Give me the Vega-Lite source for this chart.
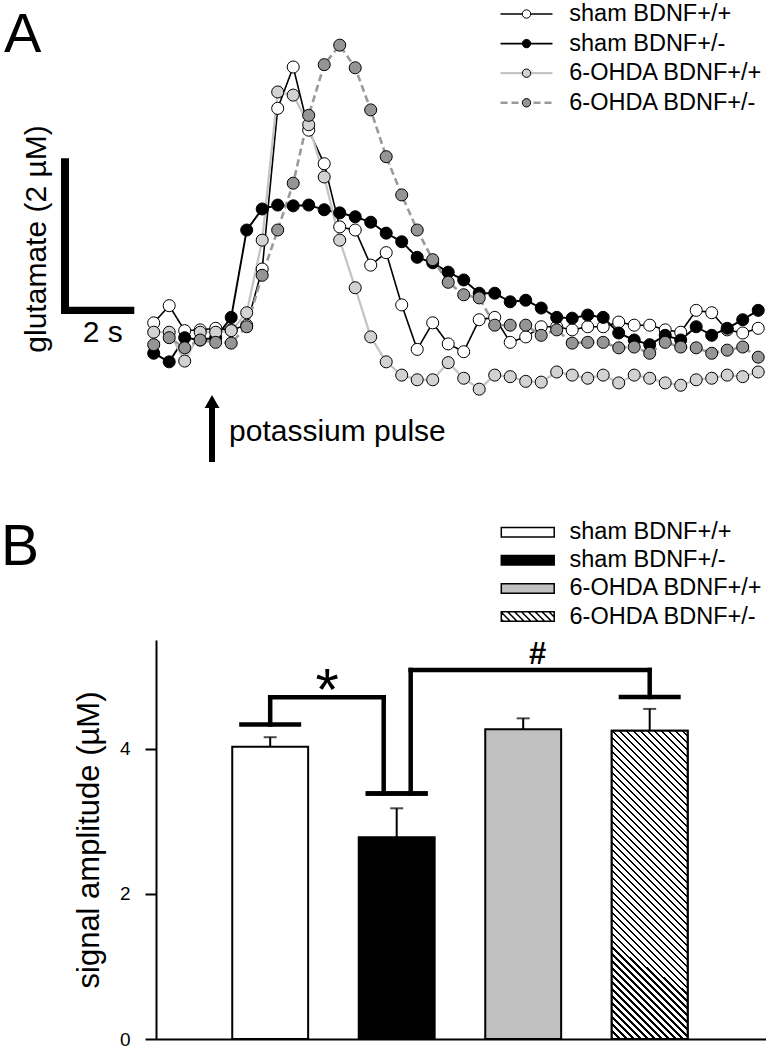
{
  "$schema": "https://vega.github.io/schema/vega-lite/v6.json",
  "padding": 0,
  "background": "white",
  "spacing": 0,
  "bounds": "flush",
  "config": {
    "view": {"stroke": null},
    "font": "Liberation Sans",
    "text": {"font": "Liberation Sans", "color": "#000"}
  },
  "resolve": {
    "scale": {"x": "independent", "y": "independent", "fill": "independent", "stroke": "independent", "strokeDash": "independent", "strokeWidth": "independent", "shape": "independent"},
    "legend": {"fill": "independent", "stroke": "independent", "strokeDash": "independent", "strokeWidth": "independent", "shape": "independent"}
  },
  "datasets": {
    "traces": [
      {"series":"sham BDNF+/+","t":0,"glutamate":0.22},{"series":"sham BDNF+/+","t":0.425,"glutamate":0.44},{"series":"sham BDNF+/+","t":0.85,"glutamate":0.12},{"series":"sham BDNF+/+","t":1.275,"glutamate":0.13},{"series":"sham BDNF+/+","t":1.7,"glutamate":0.15},{"series":"sham BDNF+/+","t":2.125,"glutamate":0.13},{"series":"sham BDNF+/+","t":2.55,"glutamate":0.19},{"series":"sham BDNF+/+","t":2.975,"glutamate":0.91},{"series":"sham BDNF+/+","t":3.4,"glutamate":2.97},{"series":"sham BDNF+/+","t":3.825,"glutamate":3.5},{"series":"sham BDNF+/+","t":4.25,"glutamate":2.69},{"series":"sham BDNF+/+","t":4.675,"glutamate":2.26},{"series":"sham BDNF+/+","t":5.1,"glutamate":1.45},{"series":"sham BDNF+/+","t":5.525,"glutamate":1.41},{"series":"sham BDNF+/+","t":5.95,"glutamate":0.96},{"series":"sham BDNF+/+","t":6.375,"glutamate":1.12},{"series":"sham BDNF+/+","t":6.8,"glutamate":0.45},{"series":"sham BDNF+/+","t":7.225,"glutamate":-0.12},{"series":"sham BDNF+/+","t":7.65,"glutamate":0.22},{"series":"sham BDNF+/+","t":8.075,"glutamate":-0.05},{"series":"sham BDNF+/+","t":8.5,"glutamate":-0.15},{"series":"sham BDNF+/+","t":8.925,"glutamate":0.26},{"series":"sham BDNF+/+","t":9.35,"glutamate":0.29},{"series":"sham BDNF+/+","t":9.775,"glutamate":-0.03},{"series":"sham BDNF+/+","t":10.2,"glutamate":0.04},{"series":"sham BDNF+/+","t":10.625,"glutamate":0.17},{"series":"sham BDNF+/+","t":11.05,"glutamate":0.17},{"series":"sham BDNF+/+","t":11.475,"glutamate":0.13},{"series":"sham BDNF+/+","t":11.9,"glutamate":0.17},{"series":"sham BDNF+/+","t":12.325,"glutamate":0.17},{"series":"sham BDNF+/+","t":12.75,"glutamate":0.23},{"series":"sham BDNF+/+","t":13.175,"glutamate":0.19},{"series":"sham BDNF+/+","t":13.6,"glutamate":0.19},{"series":"sham BDNF+/+","t":14.025,"glutamate":0.13},{"series":"sham BDNF+/+","t":14.45,"glutamate":0.1},{"series":"sham BDNF+/+","t":14.875,"glutamate":0.38},{"series":"sham BDNF+/+","t":15.3,"glutamate":0.35},{"series":"sham BDNF+/+","t":15.725,"glutamate":0.13},{"series":"sham BDNF+/+","t":16.15,"glutamate":0.09},{"series":"sham BDNF+/+","t":16.575,"glutamate":0.15},
      {"series":"sham BDNF+/-","t":0,"glutamate":-0.17},{"series":"sham BDNF+/-","t":0.425,"glutamate":-0.28},{"series":"sham BDNF+/-","t":0.85,"glutamate":0.03},{"series":"sham BDNF+/-","t":1.275,"glutamate":0},{"series":"sham BDNF+/-","t":1.7,"glutamate":0.03},{"series":"sham BDNF+/-","t":2.125,"glutamate":0.29},{"series":"sham BDNF+/-","t":2.55,"glutamate":1.41},{"series":"sham BDNF+/-","t":2.975,"glutamate":1.68},{"series":"sham BDNF+/-","t":3.4,"glutamate":1.73},{"series":"sham BDNF+/-","t":3.825,"glutamate":1.72},{"series":"sham BDNF+/-","t":4.25,"glutamate":1.73},{"series":"sham BDNF+/-","t":4.675,"glutamate":1.67},{"series":"sham BDNF+/-","t":5.1,"glutamate":1.63},{"series":"sham BDNF+/-","t":5.525,"glutamate":1.58},{"series":"sham BDNF+/-","t":5.95,"glutamate":1.51},{"series":"sham BDNF+/-","t":6.375,"glutamate":1.37},{"series":"sham BDNF+/-","t":6.8,"glutamate":1.26},{"series":"sham BDNF+/-","t":7.225,"glutamate":1.06},{"series":"sham BDNF+/-","t":7.65,"glutamate":0.99},{"series":"sham BDNF+/-","t":8.075,"glutamate":0.87},{"series":"sham BDNF+/-","t":8.5,"glutamate":0.77},{"series":"sham BDNF+/-","t":8.925,"glutamate":0.6},{"series":"sham BDNF+/-","t":9.35,"glutamate":0.6},{"series":"sham BDNF+/-","t":9.775,"glutamate":0.49},{"series":"sham BDNF+/-","t":10.2,"glutamate":0.51},{"series":"sham BDNF+/-","t":10.625,"glutamate":0.41},{"series":"sham BDNF+/-","t":11.05,"glutamate":0.29},{"series":"sham BDNF+/-","t":11.475,"glutamate":0.28},{"series":"sham BDNF+/-","t":11.9,"glutamate":0.32},{"series":"sham BDNF+/-","t":12.325,"glutamate":0.29},{"series":"sham BDNF+/-","t":12.75,"glutamate":0.09},{"series":"sham BDNF+/-","t":13.175,"glutamate":0},{"series":"sham BDNF+/-","t":13.6,"glutamate":-0.06},{"series":"sham BDNF+/-","t":14.025,"glutamate":0.06},{"series":"sham BDNF+/-","t":14.45,"glutamate":0},{"series":"sham BDNF+/-","t":14.875,"glutamate":0.17},{"series":"sham BDNF+/-","t":15.3,"glutamate":0.06},{"series":"sham BDNF+/-","t":15.725,"glutamate":0.15},{"series":"sham BDNF+/-","t":16.15,"glutamate":0.26},{"series":"sham BDNF+/-","t":16.575,"glutamate":0.38},
      {"series":"6-OHDA BDNF+/+","t":0,"glutamate":0.1},{"series":"6-OHDA BDNF+/+","t":0.425,"glutamate":0.1},{"series":"6-OHDA BDNF+/+","t":0.85,"glutamate":-0.27},{"series":"6-OHDA BDNF+/+","t":1.275,"glutamate":0.1},{"series":"6-OHDA BDNF+/+","t":1.7,"glutamate":0.1},{"series":"6-OHDA BDNF+/+","t":2.125,"glutamate":0.12},{"series":"6-OHDA BDNF+/+","t":2.55,"glutamate":0.35},{"series":"6-OHDA BDNF+/+","t":2.975,"glutamate":1.28},{"series":"6-OHDA BDNF+/+","t":3.4,"glutamate":3.18},{"series":"6-OHDA BDNF+/+","t":3.825,"glutamate":3.14},{"series":"6-OHDA BDNF+/+","t":4.25,"glutamate":2.76},{"series":"6-OHDA BDNF+/+","t":4.675,"glutamate":2.09},{"series":"6-OHDA BDNF+/+","t":5.1,"glutamate":1.28},{"series":"6-OHDA BDNF+/+","t":5.525,"glutamate":0.67},{"series":"6-OHDA BDNF+/+","t":5.95,"glutamate":0.04},{"series":"6-OHDA BDNF+/+","t":6.375,"glutamate":-0.28},{"series":"6-OHDA BDNF+/+","t":6.8,"glutamate":-0.45},{"series":"6-OHDA BDNF+/+","t":7.225,"glutamate":-0.51},{"series":"6-OHDA BDNF+/+","t":7.65,"glutamate":-0.51},{"series":"6-OHDA BDNF+/+","t":8.075,"glutamate":-0.29},{"series":"6-OHDA BDNF+/+","t":8.5,"glutamate":-0.49},{"series":"6-OHDA BDNF+/+","t":8.925,"glutamate":-0.63},{"series":"6-OHDA BDNF+/+","t":9.35,"glutamate":-0.45},{"series":"6-OHDA BDNF+/+","t":9.775,"glutamate":-0.47},{"series":"6-OHDA BDNF+/+","t":10.2,"glutamate":-0.53},{"series":"6-OHDA BDNF+/+","t":10.625,"glutamate":-0.54},{"series":"6-OHDA BDNF+/+","t":11.05,"glutamate":-0.41},{"series":"6-OHDA BDNF+/+","t":11.475,"glutamate":-0.45},{"series":"6-OHDA BDNF+/+","t":11.9,"glutamate":-0.49},{"series":"6-OHDA BDNF+/+","t":12.325,"glutamate":-0.45},{"series":"6-OHDA BDNF+/+","t":12.75,"glutamate":-0.55},{"series":"6-OHDA BDNF+/+","t":13.175,"glutamate":-0.45},{"series":"6-OHDA BDNF+/+","t":13.6,"glutamate":-0.49},{"series":"6-OHDA BDNF+/+","t":14.025,"glutamate":-0.55},{"series":"6-OHDA BDNF+/+","t":14.45,"glutamate":-0.58},{"series":"6-OHDA BDNF+/+","t":14.875,"glutamate":-0.51},{"series":"6-OHDA BDNF+/+","t":15.3,"glutamate":-0.49},{"series":"6-OHDA BDNF+/+","t":15.725,"glutamate":-0.45},{"series":"6-OHDA BDNF+/+","t":16.15,"glutamate":-0.47},{"series":"6-OHDA BDNF+/+","t":16.575,"glutamate":-0.41},
      {"series":"6-OHDA BDNF+/-","t":0,"glutamate":-0.06},{"series":"6-OHDA BDNF+/-","t":0.425,"glutamate":0.03},{"series":"6-OHDA BDNF+/-","t":0.85,"glutamate":-0.1},{"series":"6-OHDA BDNF+/-","t":1.275,"glutamate":0},{"series":"6-OHDA BDNF+/-","t":1.7,"glutamate":-0.03},{"series":"6-OHDA BDNF+/-","t":2.125,"glutamate":-0.04},{"series":"6-OHDA BDNF+/-","t":2.55,"glutamate":0.17},{"series":"6-OHDA BDNF+/-","t":2.975,"glutamate":0.83},{"series":"6-OHDA BDNF+/-","t":3.4,"glutamate":1.41},{"series":"6-OHDA BDNF+/-","t":3.825,"glutamate":2.01},{"series":"6-OHDA BDNF+/-","t":4.25,"glutamate":2.88},{"series":"6-OHDA BDNF+/-","t":4.675,"glutamate":3.53},{"series":"6-OHDA BDNF+/-","t":5.1,"glutamate":3.78},{"series":"6-OHDA BDNF+/-","t":5.525,"glutamate":3.49},{"series":"6-OHDA BDNF+/-","t":5.95,"glutamate":2.95},{"series":"6-OHDA BDNF+/-","t":6.375,"glutamate":2.35},{"series":"6-OHDA BDNF+/-","t":6.8,"glutamate":1.86},{"series":"6-OHDA BDNF+/-","t":7.225,"glutamate":1.41},{"series":"6-OHDA BDNF+/-","t":7.65,"glutamate":1.03},{"series":"6-OHDA BDNF+/-","t":8.075,"glutamate":0.74},{"series":"6-OHDA BDNF+/-","t":8.5,"glutamate":0.58},{"series":"6-OHDA BDNF+/-","t":8.925,"glutamate":0.54},{"series":"6-OHDA BDNF+/-","t":9.35,"glutamate":0.19},{"series":"6-OHDA BDNF+/-","t":9.775,"glutamate":0.19},{"series":"6-OHDA BDNF+/-","t":10.2,"glutamate":0.19},{"series":"6-OHDA BDNF+/-","t":10.625,"glutamate":0.06},{"series":"6-OHDA BDNF+/-","t":11.05,"glutamate":0.13},{"series":"6-OHDA BDNF+/-","t":11.475,"glutamate":-0.04},{"series":"6-OHDA BDNF+/-","t":11.9,"glutamate":-0.03},{"series":"6-OHDA BDNF+/-","t":12.325,"glutamate":-0.03},{"series":"6-OHDA BDNF+/-","t":12.75,"glutamate":-0.1},{"series":"6-OHDA BDNF+/-","t":13.175,"glutamate":-0.09},{"series":"6-OHDA BDNF+/-","t":13.6,"glutamate":-0.17},{"series":"6-OHDA BDNF+/-","t":14.025,"glutamate":-0.03},{"series":"6-OHDA BDNF+/-","t":14.45,"glutamate":-0.09},{"series":"6-OHDA BDNF+/-","t":14.875,"glutamate":-0.1},{"series":"6-OHDA BDNF+/-","t":15.3,"glutamate":-0.17},{"series":"6-OHDA BDNF+/-","t":15.725,"glutamate":-0.13},{"series":"6-OHDA BDNF+/-","t":16.15,"glutamate":-0.09},{"series":"6-OHDA BDNF+/-","t":16.575,"glutamate":-0.22}
    ],
    "bars": [
      {"group": "sham BDNF+/+", "mean": 4.03, "sem": 0.13},
      {"group": "sham BDNF+/-", "mean": 2.78, "sem": 0.4},
      {"group": "6-OHDA BDNF+/+", "mean": 4.27, "sem": 0.15},
      {"group": "6-OHDA BDNF+/-", "mean": 4.25, "sem": 0.3}
    ],
    "brackets": [
      {"comparison": "*", "a": "sham BDNF+/+", "b": "sham BDNF+/-", "ya": 4.335, "yb": 3.385, "top": 4.71},
      {"comparison": "#", "a": "sham BDNF+/-", "b": "6-OHDA BDNF+/-", "ya": 3.385, "yb": 4.715, "top": 5.087}
    ]
  },
  "vconcat": [
    {
      "width": 611,
      "height": 640,
      "data": {"values": [{}]},
      "resolve": {"legend": {"stroke": "independent", "strokeDash": "independent", "strokeWidth": "independent", "fill": "independent"}},
      "layer": [
        {
          "data": {"name": "traces"},
          "mark": {"type": "line", "strokeCap": "butt"},
          "encoding": {
            "x": {"field": "t", "type": "quantitative", "scale": {"domain": [0.063, 16.816], "nice": false, "zero": false}, "axis": null},
            "y": {"field": "glutamate", "type": "quantitative", "scale": {"domain": [-3.846, 4.359], "nice": false, "zero": false}, "axis": null},
            "stroke": {"field": "series", "type": "nominal",
              "scale": {"domain": ["sham BDNF+/+", "sham BDNF+/-", "6-OHDA BDNF+/+", "6-OHDA BDNF+/-"], "range": ["#000000", "#000000", "#c4c4c4", "#9a9a9a"]},
              "legend": {"title": null, "orient": "none", "legendX": 358.75, "legendY": 2.25, "padding": 0, "symbolType": "M-5,0H5", "symbolSize": 108, "labelOffset": 31, "labelFontSize": 23.5, "labelFont": "Liberation Sans", "labelColor": "#000", "labelLimit": 400, "rowPadding": 4.6}},
            "strokeDash": {"field": "series", "type": "nominal",
              "scale": {"domain": ["sham BDNF+/+", "sham BDNF+/-", "6-OHDA BDNF+/+", "6-OHDA BDNF+/-"], "range": [[1, 0], [1, 0], [1, 0], [7, 4]]},
              "legend": {"title": null, "orient": "none", "legendX": 358.75, "legendY": 2.25, "padding": 0, "symbolType": "M-5,0H5", "symbolSize": 108, "labelOffset": 31, "labelFontSize": 23.5, "labelFont": "Liberation Sans", "labelColor": "#000", "labelLimit": 400, "rowPadding": 4.6}},
            "strokeWidth": {"field": "series", "type": "nominal",
              "scale": {"domain": ["sham BDNF+/+", "sham BDNF+/-", "6-OHDA BDNF+/+", "6-OHDA BDNF+/-"], "range": [1.6, 2.6, 2, 2]},
              "legend": {"title": null, "orient": "none", "legendX": 358.75, "legendY": 2.25, "padding": 0, "symbolType": "M-5,0H5", "symbolSize": 108, "labelOffset": 31, "labelFontSize": 23.5, "labelFont": "Liberation Sans", "labelColor": "#000", "labelLimit": 400, "rowPadding": 4.6}}
          }
        },
        {
          "data": {"name": "traces"},
          "mark": {"type": "point", "shape": "circle", "filled": true, "size": 145, "stroke": "#000", "strokeWidth": 1, "opacity": 1},
          "encoding": {
            "x": {"field": "t", "type": "quantitative"},
            "y": {"field": "glutamate", "type": "quantitative"},
            "fill": {"field": "series", "type": "nominal",
              "scale": {"domain": ["sham BDNF+/+", "sham BDNF+/-", "6-OHDA BDNF+/+", "6-OHDA BDNF+/-"], "range": ["#ffffff", "#000000", "#d2d2d2", "#959595"]},
              "legend": {"title": null, "orient": "none", "legendX": 358.75, "legendY": 2.25, "padding": 0, "symbolType": "circle", "symbolSize": 70, "symbolStrokeColor": "#000", "symbolStrokeWidth": 1, "symbolOpacity": 1, "labelOffset": 31, "labelFontSize": 23.5, "labelFont": "Liberation Sans", "labelOpacity": 0, "labelLimit": 400, "rowPadding": 4.6}}
          }
        },
        {
          "mark": {"type": "rule", "strokeWidth": 8, "strokeCap": "butt", "color": "#000"},
          "encoding": {"x": {"datum": -2.432}, "y": {"datum": 0.333}, "y2": {"datum": 2.329}}
        },
        {
          "mark": {"type": "rule", "strokeWidth": 7.4, "strokeCap": "butt", "color": "#000"},
          "encoding": {"x": {"datum": -2.542}, "x2": {"datum": -0.532}, "y": {"datum": 0.38}}
        },
        {
          "mark": {"type": "text", "text": "2 s", "fontSize": 30, "align": "center", "baseline": "alphabetic"},
          "encoding": {"x": {"datum": -1.4}, "y": {"datum": -0.022}}
        },
        {
          "mark": {"type": "text", "text": "glutamate (2 µM)", "fontSize": 30, "align": "center", "baseline": "alphabetic", "angle": 270},
          "encoding": {"x": {"datum": -2.953}, "y": {"datum": 1.295}}
        },
        {
          "mark": {"type": "text", "text": "potassium pulse", "fontSize": 30, "align": "left", "baseline": "alphabetic"},
          "encoding": {"x": {"datum": 2.065}, "y": {"datum": -1.295}}
        },
        {
          "mark": {"type": "rule", "strokeWidth": 6, "strokeCap": "butt", "color": "#000"},
          "encoding": {"x": {"datum": 1.599}, "y": {"datum": -1.564}, "y2": {"datum": -0.833}}
        },
        {
          "mark": {"type": "point", "shape": "triangle-up", "filled": true, "size": 220, "color": "#000", "opacity": 1},
          "encoding": {"x": {"datum": 1.599}, "y": {"datum": -0.788}}
        },
        {
          "mark": {"type": "text", "text": "A", "fontSize": 56, "align": "left", "baseline": "alphabetic"},
          "encoding": {"x": {"datum": -4.105}, "y": {"datum": 3.692}}
        },
        {
          "mark": {"type": "text", "text": "B", "fontSize": 57, "align": "left", "baseline": "alphabetic"},
          "encoding": {"x": {"datum": -4.187}, "y": {"datum": -2.885}}
        }
      ]
    },
    {
      "width": 611,
      "height": 399,
      "data": {"name": "bars"},
      "encoding": {
        "x": {"field": "group", "type": "nominal", "sort": null,
          "scale": {"domain": ["sham BDNF+/+", "sham BDNF+/-", "6-OHDA BDNF+/+", "6-OHDA BDNF+/-"], "paddingInner": 0.4, "paddingOuter": 0.615, "align": 0.49},
          "axis": {"title": null, "labels": false, "ticks": false, "grid": false, "domainWidth": 2, "domainColor": "#000"}}
      },
      "layer": [
        {
          "mark": {"type": "point", "filled": true, "size": 112, "stroke": "#000", "strokeWidth": 1.5, "opacity": 1},
          "encoding": {
            "y": {"datum": 1, "type": "quantitative", "scale": {"domain": [0, 5.5], "nice": false, "zero": true},
              "axis": {"values": [0, 2, 4], "format": "d", "title": "signal amplitude (µM)", "titleFontSize": 31, "titleFontWeight": "normal", "titleColor": "#000", "titleFont": "Liberation Sans", "titlePadding": 14, "labelFontSize": 19, "labelFont": "Liberation Sans", "labelColor": "#000", "labelPadding": 15, "tickSize": 11, "tickWidth": 2, "tickColor": "#000", "domainColor": "#000", "domainWidth": 2, "grid": false}},
            "shape": {"field": "group", "type": "nominal",
              "scale": {"domain": ["sham BDNF+/+", "sham BDNF+/-", "6-OHDA BDNF+/+", "6-OHDA BDNF+/-"],
                "range": ["M-5,-0.9H5V0.9H-5Z", "M-5,-0.9H5V0.9H-5Z", "M-5,-0.9H5V0.9H-5Z", "M-5,-0.9H5V0.9H-5Z M-5,0.5L-4.6,0.9 M-5,-0.8L-3.3,0.9 M-3.8,-0.9L-2,0.9 M-2.5,-0.9L-0.7,0.9 M-1.2,-0.9L0.6,0.9 M0.1,-0.9L1.9,0.9 M1.4,-0.9L3.2,0.9 M2.7,-0.9L4.5,0.9 M4,-0.9L5,0.1"]},
              "legend": {"title": null, "orient": "none", "legendX": 360, "legendY": -119.5, "padding": 0, "symbolSize": 112, "symbolStrokeWidth": 1.5, "symbolOpacity": 1, "labelOffset": 30, "labelFontSize": 23.5, "labelFont": "Liberation Sans", "labelColor": "#000", "labelLimit": 400, "rowPadding": 3.1}},
            "stroke": {"field": "group", "type": "nominal",
              "scale": {"domain": ["sham BDNF+/+", "sham BDNF+/-", "6-OHDA BDNF+/+", "6-OHDA BDNF+/-"], "range": ["#000000", "#000000", "#000000", "#000000"]},
              "legend": {"title": null, "orient": "none", "legendX": 360, "legendY": -119.5, "padding": 0, "symbolSize": 112, "symbolStrokeWidth": 1.5, "symbolOpacity": 1, "labelOffset": 30, "labelFontSize": 23.5, "labelFont": "Liberation Sans", "labelColor": "#000", "labelLimit": 400, "rowPadding": 3.1}},
            "fill": {"field": "group", "type": "nominal",
              "scale": {"domain": ["sham BDNF+/+", "sham BDNF+/-", "6-OHDA BDNF+/+", "6-OHDA BDNF+/-"], "range": ["#ffffff", "#000000", "#c0c0c0", "#ffffff"]},
              "legend": {"title": null, "orient": "none", "legendX": 360, "legendY": -119.5, "padding": 0, "symbolSize": 112, "symbolStrokeWidth": 1.5, "symbolOpacity": 1, "labelOffset": 30, "labelFontSize": 23.5, "labelFont": "Liberation Sans", "labelColor": "#000", "labelLimit": 400, "rowPadding": 3.1}}
          }
        },
        {
          "mark": {"type": "errorbar", "ticks": true, "color": "#000", "thickness": 2, "size": 13},
          "encoding": {
            "y": {"field": "mean", "type": "quantitative", "title": "signal amplitude (µM)"},
            "yError": {"field": "sem"}
          }
        },
        {
          "mark": {"type": "bar", "stroke": "#000", "strokeWidth": 2},
          "encoding": {
            "y": {"field": "mean", "type": "quantitative", "title": "signal amplitude (µM)"},
            "fill": {"field": "group", "type": "nominal",
              "scale": {"domain": ["sham BDNF+/+", "sham BDNF+/-", "6-OHDA BDNF+/+", "6-OHDA BDNF+/-"], "range": ["#ffffff", "#000000", "#c0c0c0", "#ffffff"]},
              "legend": null}
          }
        },
        {
          "transform": [{"filter": "datum.group === '6-OHDA BDNF+/-'"}],
          "mark": {"type": "bar", "stroke": "#000", "strokeWidth": 2,
            "fill": {"gradient": "linear", "x1": 0, "y1": 1, "x2": 0.289, "y2": -0.175, "stops": [
              {"offset":0,"color":"#000"},{"offset":0.00636,"color":"#000"},{"offset":0.00636,"color":"#fff"},{"offset":0.01818,"color":"#fff"},
              {"offset":0.01818,"color":"#000"},{"offset":0.02455,"color":"#000"},{"offset":0.02455,"color":"#fff"},{"offset":0.03636,"color":"#fff"},
              {"offset":0.03636,"color":"#000"},{"offset":0.04273,"color":"#000"},{"offset":0.04273,"color":"#fff"},{"offset":0.05455,"color":"#fff"},
              {"offset":0.05455,"color":"#000"},{"offset":0.06091,"color":"#000"},{"offset":0.06091,"color":"#fff"},{"offset":0.07273,"color":"#fff"},
              {"offset":0.07273,"color":"#000"},{"offset":0.07909,"color":"#000"},{"offset":0.07909,"color":"#fff"},{"offset":0.09091,"color":"#fff"},
              {"offset":0.09091,"color":"#000"},{"offset":0.09727,"color":"#000"},{"offset":0.09727,"color":"#fff"},{"offset":0.10909,"color":"#fff"},
              {"offset":0.10909,"color":"#000"},{"offset":0.11545,"color":"#000"},{"offset":0.11545,"color":"#fff"},{"offset":0.12727,"color":"#fff"},
              {"offset":0.12727,"color":"#000"},{"offset":0.13364,"color":"#000"},{"offset":0.13364,"color":"#fff"},{"offset":0.14545,"color":"#fff"},
              {"offset":0.14545,"color":"#000"},{"offset":0.15182,"color":"#000"},{"offset":0.15182,"color":"#fff"},{"offset":0.16364,"color":"#fff"},
              {"offset":0.16364,"color":"#000"},{"offset":0.17,"color":"#000"},{"offset":0.17,"color":"#fff"},{"offset":0.18182,"color":"#fff"},
              {"offset":0.18182,"color":"#000"},{"offset":0.18818,"color":"#000"},{"offset":0.18818,"color":"#fff"},{"offset":0.2,"color":"#fff"},
              {"offset":0.2,"color":"#000"},{"offset":0.20636,"color":"#000"},{"offset":0.20636,"color":"#fff"},{"offset":0.21818,"color":"#fff"},
              {"offset":0.21818,"color":"#000"},{"offset":0.22455,"color":"#000"},{"offset":0.22455,"color":"#fff"},{"offset":0.23636,"color":"#fff"},
              {"offset":0.23636,"color":"#000"},{"offset":0.24273,"color":"#000"},{"offset":0.24273,"color":"#fff"},{"offset":0.25455,"color":"#fff"},
              {"offset":0.25455,"color":"#000"},{"offset":0.26091,"color":"#000"},{"offset":0.26091,"color":"#fff"},{"offset":0.27273,"color":"#fff"},
              {"offset":0.27273,"color":"#000"},{"offset":0.27909,"color":"#000"},{"offset":0.27909,"color":"#fff"},{"offset":0.29091,"color":"#fff"},
              {"offset":0.29091,"color":"#000"},{"offset":0.29727,"color":"#000"},{"offset":0.29727,"color":"#fff"},{"offset":0.30909,"color":"#fff"},
              {"offset":0.30909,"color":"#000"},{"offset":0.31545,"color":"#000"},{"offset":0.31545,"color":"#fff"},{"offset":0.32727,"color":"#fff"},
              {"offset":0.32727,"color":"#000"},{"offset":0.33364,"color":"#000"},{"offset":0.33364,"color":"#fff"},{"offset":0.34545,"color":"#fff"},
              {"offset":0.34545,"color":"#000"},{"offset":0.35182,"color":"#000"},{"offset":0.35182,"color":"#fff"},{"offset":0.36364,"color":"#fff"},
              {"offset":0.36364,"color":"#000"},{"offset":0.37,"color":"#000"},{"offset":0.37,"color":"#fff"},{"offset":0.38182,"color":"#fff"},
              {"offset":0.38182,"color":"#000"},{"offset":0.38818,"color":"#000"},{"offset":0.38818,"color":"#fff"},{"offset":0.4,"color":"#fff"},
              {"offset":0.4,"color":"#000"},{"offset":0.40636,"color":"#000"},{"offset":0.40636,"color":"#fff"},{"offset":0.41818,"color":"#fff"},
              {"offset":0.41818,"color":"#000"},{"offset":0.42455,"color":"#000"},{"offset":0.42455,"color":"#fff"},{"offset":0.43636,"color":"#fff"},
              {"offset":0.43636,"color":"#000"},{"offset":0.44273,"color":"#000"},{"offset":0.44273,"color":"#fff"},{"offset":0.45455,"color":"#fff"},
              {"offset":0.45455,"color":"#000"},{"offset":0.46091,"color":"#000"},{"offset":0.46091,"color":"#fff"},{"offset":0.47273,"color":"#fff"},
              {"offset":0.47273,"color":"#000"},{"offset":0.47909,"color":"#000"},{"offset":0.47909,"color":"#fff"},{"offset":0.49091,"color":"#fff"},
              {"offset":0.49091,"color":"#000"},{"offset":0.49727,"color":"#000"},{"offset":0.49727,"color":"#fff"},{"offset":0.50909,"color":"#fff"},
              {"offset":0.50909,"color":"#000"},{"offset":0.51545,"color":"#000"},{"offset":0.51545,"color":"#fff"},{"offset":0.52727,"color":"#fff"},
              {"offset":0.52727,"color":"#000"},{"offset":0.53364,"color":"#000"},{"offset":0.53364,"color":"#fff"},{"offset":0.54545,"color":"#fff"},
              {"offset":0.54545,"color":"#000"},{"offset":0.55182,"color":"#000"},{"offset":0.55182,"color":"#fff"},{"offset":0.56364,"color":"#fff"},
              {"offset":0.56364,"color":"#000"},{"offset":0.57,"color":"#000"},{"offset":0.57,"color":"#fff"},{"offset":0.58182,"color":"#fff"},
              {"offset":0.58182,"color":"#000"},{"offset":0.58818,"color":"#000"},{"offset":0.58818,"color":"#fff"},{"offset":0.6,"color":"#fff"},
              {"offset":0.6,"color":"#000"},{"offset":0.60636,"color":"#000"},{"offset":0.60636,"color":"#fff"},{"offset":0.61818,"color":"#fff"},
              {"offset":0.61818,"color":"#000"},{"offset":0.62455,"color":"#000"},{"offset":0.62455,"color":"#fff"},{"offset":0.63636,"color":"#fff"},
              {"offset":0.63636,"color":"#000"},{"offset":0.64273,"color":"#000"},{"offset":0.64273,"color":"#fff"},{"offset":0.65455,"color":"#fff"},
              {"offset":0.65455,"color":"#000"},{"offset":0.66091,"color":"#000"},{"offset":0.66091,"color":"#fff"},{"offset":0.67273,"color":"#fff"},
              {"offset":0.67273,"color":"#000"},{"offset":0.67909,"color":"#000"},{"offset":0.67909,"color":"#fff"},{"offset":0.69091,"color":"#fff"},
              {"offset":0.69091,"color":"#000"},{"offset":0.69727,"color":"#000"},{"offset":0.69727,"color":"#fff"},{"offset":0.70909,"color":"#fff"},
              {"offset":0.70909,"color":"#000"},{"offset":0.71545,"color":"#000"},{"offset":0.71545,"color":"#fff"},{"offset":0.72727,"color":"#fff"},
              {"offset":0.72727,"color":"#000"},{"offset":0.73364,"color":"#000"},{"offset":0.73364,"color":"#fff"},{"offset":0.74545,"color":"#fff"},
              {"offset":0.74545,"color":"#000"},{"offset":0.75182,"color":"#000"},{"offset":0.75182,"color":"#fff"},{"offset":0.76364,"color":"#fff"},
              {"offset":0.76364,"color":"#000"},{"offset":0.77,"color":"#000"},{"offset":0.77,"color":"#fff"},{"offset":0.78182,"color":"#fff"},
              {"offset":0.78182,"color":"#000"},{"offset":0.78818,"color":"#000"},{"offset":0.78818,"color":"#fff"},{"offset":0.8,"color":"#fff"},
              {"offset":0.8,"color":"#000"},{"offset":0.80636,"color":"#000"},{"offset":0.80636,"color":"#fff"},{"offset":0.81818,"color":"#fff"},
              {"offset":0.81818,"color":"#000"},{"offset":0.82455,"color":"#000"},{"offset":0.82455,"color":"#fff"},{"offset":0.83636,"color":"#fff"},
              {"offset":0.83636,"color":"#000"},{"offset":0.84273,"color":"#000"},{"offset":0.84273,"color":"#fff"},{"offset":0.85455,"color":"#fff"},
              {"offset":0.85455,"color":"#000"},{"offset":0.86091,"color":"#000"},{"offset":0.86091,"color":"#fff"},{"offset":0.87273,"color":"#fff"},
              {"offset":0.87273,"color":"#000"},{"offset":0.87909,"color":"#000"},{"offset":0.87909,"color":"#fff"},{"offset":0.89091,"color":"#fff"},
              {"offset":0.89091,"color":"#000"},{"offset":0.89727,"color":"#000"},{"offset":0.89727,"color":"#fff"},{"offset":0.90909,"color":"#fff"},
              {"offset":0.90909,"color":"#000"},{"offset":0.91545,"color":"#000"},{"offset":0.91545,"color":"#fff"},{"offset":0.92727,"color":"#fff"},
              {"offset":0.92727,"color":"#000"},{"offset":0.93364,"color":"#000"},{"offset":0.93364,"color":"#fff"},{"offset":0.94545,"color":"#fff"},
              {"offset":0.94545,"color":"#000"},{"offset":0.95182,"color":"#000"},{"offset":0.95182,"color":"#fff"},{"offset":0.96364,"color":"#fff"},
              {"offset":0.96364,"color":"#000"},{"offset":0.97,"color":"#000"},{"offset":0.97,"color":"#fff"},{"offset":0.98182,"color":"#fff"},
              {"offset":0.98182,"color":"#000"},{"offset":0.98818,"color":"#000"},{"offset":0.98818,"color":"#fff"},{"offset":1,"color":"#fff"}
            ]}},
          "encoding": {
            "y": {"field": "mean", "type": "quantitative", "title": "signal amplitude (µM)"}
          }
        },
        {
          "data": {"name": "brackets"},
          "layer": [
            {
              "mark": {"type": "rule", "strokeWidth": 4.5, "strokeCap": "butt", "color": "#000", "xOffset": -31, "x2Offset": 31},
              "encoding": {"x": {"field": "a", "type": "nominal"}, "x2": {"field": "a"}, "y": {"field": "ya", "type": "quantitative"}}
            },
            {
              "mark": {"type": "rule", "strokeWidth": 4.5, "strokeCap": "butt", "color": "#000", "xOffset": -31, "x2Offset": 31},
              "encoding": {"x": {"field": "b", "type": "nominal"}, "x2": {"field": "b"}, "y": {"field": "yb", "type": "quantitative"}}
            },
            {
              "transform": [{"filter": "datum.comparison === '*'"}],
              "layer": [
                {
                  "mark": {"type": "rule", "strokeWidth": 4.5, "strokeCap": "square", "color": "#000"},
                  "encoding": {"x": {"field": "a", "type": "nominal"}, "y": {"field": "ya", "type": "quantitative"}, "y2": {"field": "top"}}
                },
                {
                  "mark": {"type": "rule", "strokeWidth": 4.5, "strokeCap": "square", "color": "#000", "xOffset": -13},
                  "encoding": {"x": {"field": "b", "type": "nominal"}, "y": {"field": "yb", "type": "quantitative"}, "y2": {"field": "top"}}
                },
                {
                  "mark": {"type": "rule", "strokeWidth": 4.5, "strokeCap": "square", "color": "#000", "x2Offset": -13},
                  "encoding": {"x": {"field": "a", "type": "nominal"}, "x2": {"field": "b"}, "y": {"field": "top", "type": "quantitative"}}
                },
                {
                  "mark": {"type": "text", "fontSize": 60, "align": "center", "baseline": "alphabetic", "xOffset": 57, "dy": 13},
                  "encoding": {"x": {"field": "a", "type": "nominal"}, "y": {"field": "top", "type": "quantitative"}, "text": {"field": "comparison"}}
                }
              ]
            },
            {
              "transform": [{"filter": "datum.comparison === '#'"}],
              "layer": [
                {
                  "mark": {"type": "rule", "strokeWidth": 4.5, "strokeCap": "square", "color": "#000", "xOffset": 14},
                  "encoding": {"x": {"field": "a", "type": "nominal"}, "y": {"field": "ya", "type": "quantitative"}, "y2": {"field": "top"}}
                },
                {
                  "mark": {"type": "rule", "strokeWidth": 4.5, "strokeCap": "square", "color": "#000"},
                  "encoding": {"x": {"field": "b", "type": "nominal"}, "y": {"field": "yb", "type": "quantitative"}, "y2": {"field": "top"}}
                },
                {
                  "mark": {"type": "rule", "strokeWidth": 4.5, "strokeCap": "square", "color": "#000", "xOffset": 14},
                  "encoding": {"x": {"field": "a", "type": "nominal"}, "x2": {"field": "b"}, "y": {"field": "top", "type": "quantitative"}}
                },
                {
                  "mark": {"type": "text", "fontSize": 31, "fontWeight": "bold", "align": "center", "baseline": "alphabetic", "xOffset": 141, "dy": -6},
                  "encoding": {"x": {"field": "a", "type": "nominal"}, "y": {"field": "top", "type": "quantitative"}, "text": {"field": "comparison"}}
                }
              ]
            }
          ]
        }
      ]
    }
  ]
}
